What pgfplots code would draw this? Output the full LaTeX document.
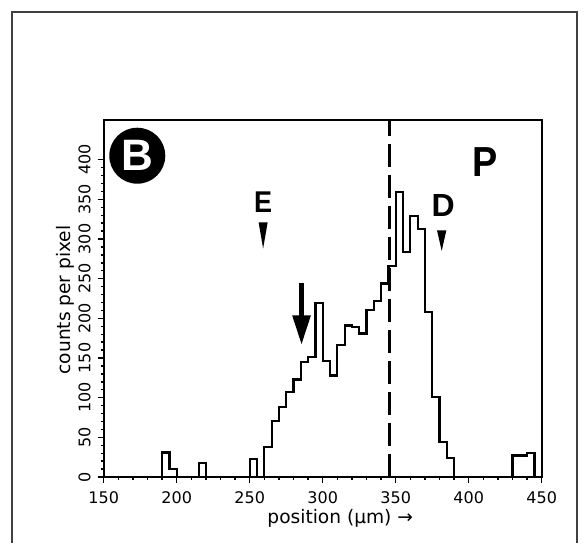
\documentclass[border=0pt]{standalone}
\usepackage{pgfplots}
\pgfplotsset{compat=1.18}
\usepackage{fontspec}
\setmainfont{DejaVu Sans}
\newfontfamily\boldsans{Liberation Sans}
\usetikzlibrary{arrows.meta}

\begin{document}
\begin{tikzpicture}
\useasboundingbox (-51.85pt,-33pt) rectangle (242.15pt,238.5pt);
\draw[black!75, line width=0.8pt] (-45.85pt,-33pt) -- (-45.85pt,232.5pt) -- (236.65pt,232.5pt) -- (236.65pt,-33pt);
\begin{axis}[
 at={(0pt,0pt)}, anchor=south west, scale only axis,
 width=219pt, height=178.5pt,
 xmin=150, xmax=450, ymin=0, ymax=450,
 xtick={150,200,...,450}, ytick={0,50,...,400},
 minor x tick num=4, minor y tick num=4,
 tick align=outside, xtick pos=bottom, ytick pos=left,
 major tick length=3pt, minor tick length=1.5pt,
 axis line style={line width=0.9pt},
 tick style={line width=0.7pt, black},
 /pgf/number format/assume math mode=true,
 ticklabel style={font=\fontsize{8}{9}\selectfont},
 xticklabel style={yshift=-1pt},
 yticklabel style={rotate=90, anchor=south, xshift=0pt},
 xlabel={position (µm) →}, ylabel={counts per pixel},
 label style={font=\fontsize{9.3}{11}\selectfont},
 xlabel style={at={(axis description cs:0.54,-0.115)}, anchor=center},
 ylabel style={at={(axis description cs:-0.087,0.496)}, anchor=center},
 clip=false,
]
\addplot[const plot, line width=1.1pt, black] coordinates {
(150,0) (155,0) (160,0) (165,0) (170,0) (175,0) (180,0) (185,0)
(190,31) (195,10) (200,0) (205,0) (210,0) (215,18) (220,0)
(225,0) (230,0) (235,0) (240,0) (245,0) (250,23) (255,0)
(260,38) (265,71) (270,88) (275,107) (280,123) (285,145) (290,151)
(295,219) (300,146) (305,128) (310,166) (315,191) (320,189) (325,181)
(330,211) (335,222) (340,244) (345,266) (350,359) (355,284) (360,329)
(365,313) (370,208) (375,101) (380,44) (385,24) (390,0) (395,0)
(400,0) (405,0) (410,0) (415,0) (420,0) (425,0) (430,27) (435,27)
(440,30) (445,0) (450,0)
};
\addplot[black, line width=1.6pt, dash pattern=on 11.5pt off 4pt] coordinates {(346,0) (346,450)};

% arrow
\draw[line width=2.8pt, -{Triangle[length=15pt,width=8.5pt]}] (axis cs:285.5,245) -- (axis cs:285.5,166);
% E marker
\fill (axis cs:256.1,321) -- (axis cs:262.3,321) -- (axis cs:259.2,288) -- cycle;
\node[font=\boldsans\bfseries\fontsize{15}{15}\selectfont, xscale=0.9] at (axis cs:259.2,346) {E};
% D marker
\fill (axis cs:378.3,311) -- (axis cs:384.7,311) -- (axis cs:381.5,285) -- cycle;
\node[font=\boldsans\bfseries\fontsize{16}{16}\selectfont] at (axis cs:382.5,342) {D};
% P
\node[font=\boldsans\bfseries\fontsize{21}{21}\selectfont, xscale=0.9] at (axis cs:411.5,397) {P};
% B
\fill (axis cs:173,405) circle[radius=14pt];
\node[white, font=\boldsans\bfseries\fontsize{22}{22}\selectfont] at (axis cs:173,405) {B};
\end{axis}
\end{tikzpicture}
\end{document}
